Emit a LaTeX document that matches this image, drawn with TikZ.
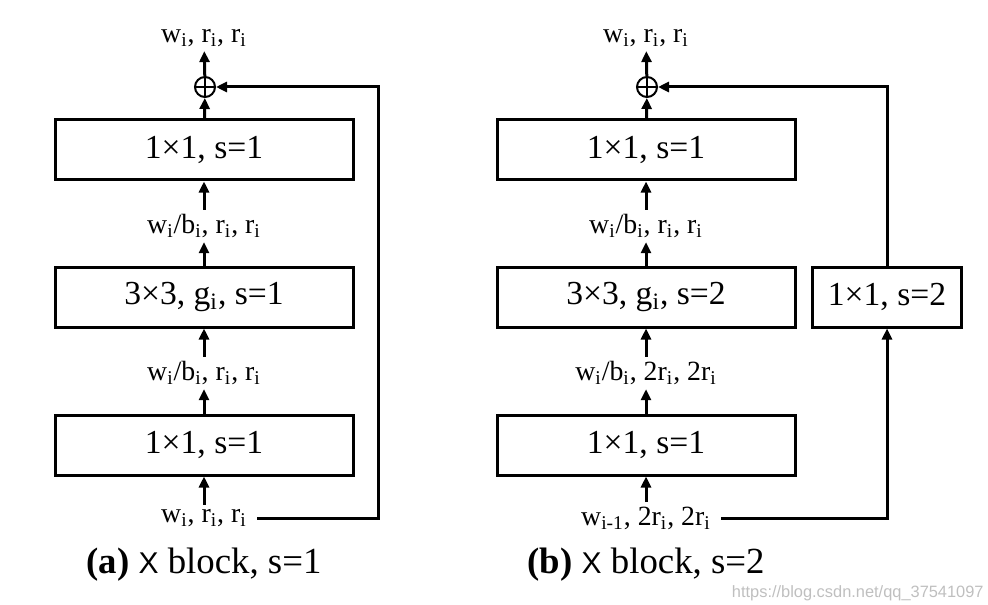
\documentclass[tikz,border=0pt]{standalone}
\usepackage{fontspec}
\setmainfont{Liberation Serif}
\setsansfont{Liberation Sans}
\usepackage{tikz}
\usetikzlibrary{positioning,arrows.meta,calc}
\newcommand{\subi}{\textsubscript{i}}

\begin{document}
\begin{tikzpicture}[x=0.5pt, y=-0.5pt, font=\fontsize{13.9}{16}\selectfont,
  blk/.style={draw, line width=1.5pt, minimum width=149pt, minimum height=30pt, inner sep=0pt, font=\fontsize{16.8}{19}\selectfont},
  lbl/.style={inner sep=2pt},
  plus/.style={circle, draw, line width=1pt, minimum size=10pt, inner sep=0pt,
    path picture={\draw[line width=1pt] (path picture bounding box.north) -- (path picture bounding box.south) (path picture bounding box.west) -- (path picture bounding box.east);}},
  arr/.style={line width=1.5pt, -{Triangle[length=5.5pt,width=5pt]}},
  caption/.style={inner sep=0pt, font=\fontsize{18.4}{21}\selectfont}]
\useasboundingbox (0,0) rectangle (988,604);

% (a) s=1
\node[blk] (a1) at (204,150) {1×1, s=1};
\node[blk] (a2) at (204,297) {3×3, g\subi, s=1};
\node[blk] (a3) at (204,445) {1×1, s=1};
\node[plus] (ap) at (205,87) {};
\node[lbl] (at) at (204,38) {w\subi, r\subi, r\subi};
\node[lbl] (am1) at (204,226) {w\subi/b\subi, r\subi, r\subi};
\node[lbl] (am2) at (204,373) {w\subi/b\subi, r\subi, r\subi};
\node[lbl] (ain) at (204,518) {w\subi, r\subi, r\subi};
\coordinate (askip) at (378,0);
\draw[arr] (ain) -- (a3);
\draw[arr] (a3) -- (am2);
\draw[arr] (am2) -- (a2);
\draw[arr] (a2) -- (am1);
\draw[arr] (am1) -- (a1);
\draw[arr] (a1) -- (ap);
\draw[arr] (ap) -- (at);
\draw[arr] ([xshift=3pt]ain.east) -| (askip |- ap) -- (ap);
\node[caption] (capa) at (204,565) {\textbf{(a)} {\sffamily\fontsize{15}{18}\selectfont X} block, s=1};

% (b) s=2
\node[blk] (b1) at (646,150) {1×1, s=1};
\node[blk] (b2) at (646,297) {3×3, g\subi, s=2};
\node[blk] (b3) at (646,445) {1×1, s=1};
\node[blk, minimum width=74.5pt] (bs) at (887,297) {1×1, s=2};
\node[plus] (bp) at (647,87) {};
\node[lbl] (bt) at (646,38) {w\subi, r\subi, r\subi};
\node[lbl] (bm1) at (646,226) {w\subi/b\subi, r\subi, r\subi};
\node[lbl] (bm2) at (646,373) {w\subi/b\subi, 2r\subi, 2r\subi};
\node[lbl] (bin) at (646,518) {w\textsubscript{i-1}, 2r\subi, 2r\subi};
\draw[arr] (bin) -- (b3);
\draw[arr] (b3) -- (bm2);
\draw[arr] (bm2) -- (b2);
\draw[arr] (b2) -- (bm1);
\draw[arr] (bm1) -- (b1);
\draw[arr] (b1) -- (bp);
\draw[arr] (bp) -- (bt);
\draw[arr] ([xshift=3pt]bin.east) -| (bs);
\draw[arr] (bs) |- (bp);
\node[caption] (capb) at (646,565) {\textbf{(b)} {\sffamily\fontsize{15}{18}\selectfont X} block, s=2};
\node[anchor=south east, inner sep=0pt, text=black!25, font=\sffamily\fontsize{8.2}{10}\selectfont] (wm) at (984,601) {https://blog.csdn.net/qq\_37541097};
\end{tikzpicture}
\end{document}
